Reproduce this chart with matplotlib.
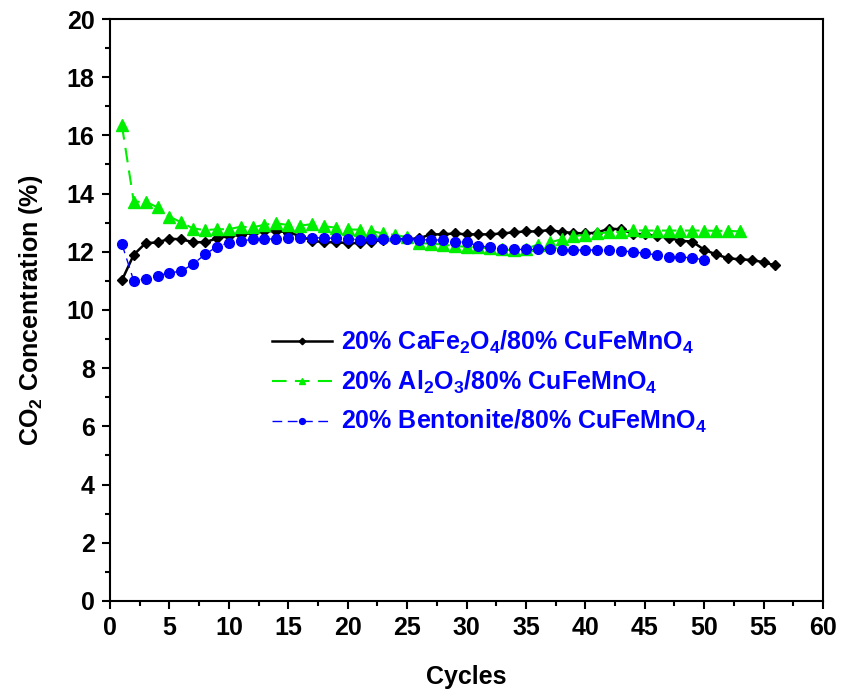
import matplotlib
matplotlib.use("Agg")
import matplotlib.pyplot as plt
from matplotlib.ticker import MultipleLocator

plt.rcParams["font.family"] = ["Liberation Sans", "DejaVu Sans"]
plt.rcParams["font.weight"] = "bold"
plt.rcParams["mathtext.fontset"] = "custom"
plt.rcParams["mathtext.rm"] = "Liberation Sans:bold"
plt.rcParams["mathtext.it"] = "Liberation Sans:bold"
plt.rcParams["mathtext.bf"] = "Liberation Sans:bold"

# CO2 concentration per cycle for each oxygen carrier
cycles_cafe = list(range(1, 57))
co2_cafe = [
    11.02, 11.90, 12.30, 12.32, 12.45, 12.43, 12.33, 12.33, 12.46, 12.54,
    12.58, 12.65, 12.70, 12.72, 12.66, 12.55, 12.38, 12.33, 12.33, 12.30,
    12.30, 12.35, 12.40, 12.43, 12.44, 12.46, 12.60, 12.60, 12.63, 12.60,
    12.60, 12.60, 12.63, 12.67, 12.70, 12.70, 12.75, 12.68, 12.65, 12.63,
    12.66, 12.80, 12.77, 12.62, 12.60, 12.54, 12.48, 12.38, 12.35, 12.07,
    11.91, 11.78, 11.74, 11.72, 11.64, 11.53,
]

cycles_al = list(range(1, 54))
co2_al = [
    16.35, 13.72, 13.72, 13.53, 13.21, 13.01, 12.80, 12.75, 12.77, 12.78,
    12.86, 12.84, 12.93, 12.98, 12.92, 12.90, 12.95, 12.88, 12.83, 12.77,
    12.76, 12.71, 12.63, 12.58, 12.50, 12.30, 12.28, 12.25, 12.20, 12.17,
    12.15, 12.12, 12.08, 12.05, 12.10, 12.25, 12.32, 12.43, 12.54, 12.58,
    12.63, 12.67, 12.68, 12.74, 12.73, 12.73, 12.73, 12.73, 12.73, 12.73,
    12.72, 12.72, 12.70,
]

cycles_bent = list(range(1, 51))
co2_bent = [
    12.27, 11.00, 11.07, 11.18, 11.27, 11.34, 11.58, 11.91, 12.18, 12.31,
    12.37, 12.43, 12.43, 12.45, 12.46, 12.48, 12.49, 12.47, 12.47, 12.45,
    12.41, 12.43, 12.43, 12.45, 12.43, 12.41, 12.41, 12.40, 12.35, 12.32,
    12.21, 12.15, 12.09, 12.08, 12.08, 12.08, 12.08, 12.07, 12.06, 12.06,
    12.06, 12.05, 12.03, 12.00, 11.95, 11.89, 11.83, 11.83, 11.78, 11.73,
]

labels = [
    r"20% CaFe$_{2}$O$_{4}$/80% CuFeMnO$_{4}$",
    r"20% Al$_{2}$O$_{3}$/80% CuFeMnO$_{4}$",
    r"20% Bentonite/80% CuFeMnO$_{4}$",
]

fig = plt.figure(figsize=(8.41, 6.96), dpi=100, facecolor="white")
ax = fig.add_axes([0.1308, 0.1365, 0.8478, 0.8362])

ax.plot(cycles_cafe, co2_cafe, color="black", lw=1.8, marker="D", ms=5.5,
        label=labels[0])
ax.plot(cycles_al, co2_al, color="#00ee00", lw=1.5, ls=(0, (7, 4)),
        marker="^", ms=8, label=labels[1])
ax.plot(cycles_bent, co2_bent, color="#0000ff", lw=1.0, ls=(0, (7, 4)),
        marker="o", ms=7, label=labels[2])

ax.set_xlim(0, 60)
ax.set_ylim(0, 20)
ax.xaxis.set_major_locator(MultipleLocator(5))
ax.xaxis.set_minor_locator(MultipleLocator(2.5))
ax.yaxis.set_major_locator(MultipleLocator(2))
ax.yaxis.set_minor_locator(MultipleLocator(1))
ax.tick_params(which="major", direction="out", length=6, width=1.5,
               labelsize=18, pad=5)
ax.tick_params(which="minor", direction="out", length=3.5, width=1.5)
for s in ax.spines.values():
    s.set_linewidth(1.5)

ax.set_xlabel("Cycles", fontsize=18, fontweight="bold", labelpad=18)
ax.set_ylabel(r"CO$_{2}$ Concentration (%)", fontsize=18, fontweight="bold",
              labelpad=16)

leg = ax.legend(loc="center left", bbox_to_anchor=(0.227, 0.376),
                frameon=False, fontsize=18, markerscale=0.6,
                handlelength=2.4, handletextpad=0.35, labelspacing=0.5,
                borderpad=0, borderaxespad=0)
for t in leg.get_texts():
    t.set_color("#0000ff")

fig.savefig("out.png", dpi=100, facecolor="white")
